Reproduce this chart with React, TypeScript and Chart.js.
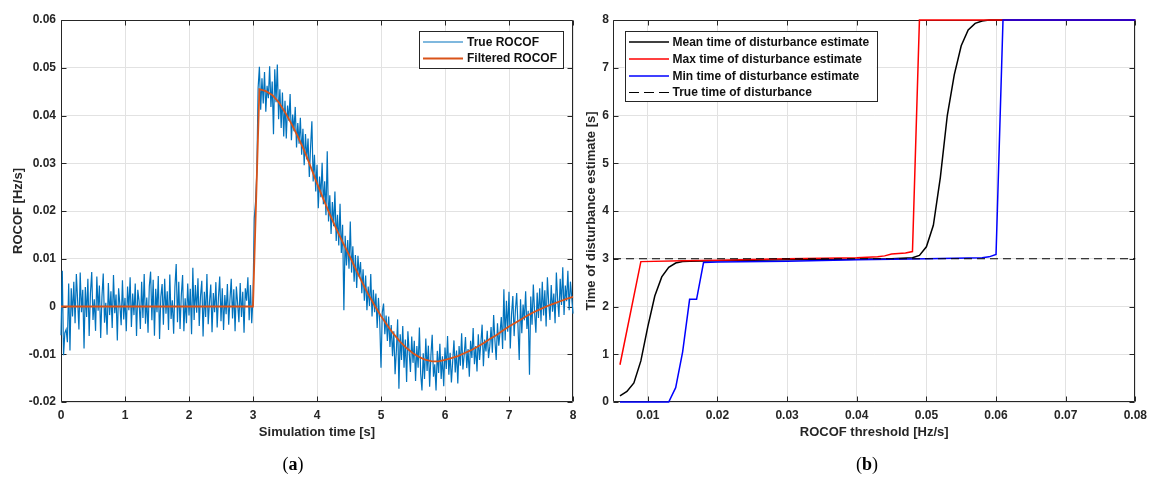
import React, { useEffect, useRef } from 'react';
import { Chart, registerables } from 'chart.js';

Chart.register(...registerables);

// ---------- Panel (a) data ----------
const TRUE_STEP = 0.02; // s between samples of the true ROCOF
const TRUE_ROCOF = [
  -0.0060, 0.0075, -0.0102, -0.0055, -0.0048, -0.0075, 0.0048, -0.0092, 0.0038, -0.0021,
  0.0052, -0.0035, 0.0068, 0.0012, -0.0048, 0.0071, -0.0012, 0.0035, -0.0088, 0.0041,
  -0.0022, 0.0058, -0.0062, 0.0028, 0.0072, -0.0028, 0.0015, -0.0051, 0.0063, -0.0009,
  0.0044, -0.0066, 0.0021, 0.0069, -0.0034, 0.0008, -0.0059, 0.0049, -0.0018, 0.0032,
  -0.0045, 0.0066, -0.0014, 0.0025, -0.0071, 0.0038, 0.0004, -0.0039, 0.0055, -0.0027,
  0.0018, -0.0052, 0.0042, -0.0008, 0.0061, -0.0043, 0.0027, -0.0018, 0.0048, -0.0062,
  0.0035, 0.0011, -0.0047, 0.0052, -0.0024, 0.0068, -0.0036, 0.0019, -0.0055, 0.0043,
  0.0073, -0.0029, 0.0056, -0.0061, 0.0037, -0.0012, 0.0064, -0.0068, 0.0021, 0.0047,
  -0.0038, 0.0058, -0.0015, 0.0032, -0.0049, 0.0067, -0.0026, 0.0013, -0.0057, 0.0041,
  0.0089, -0.0033, 0.0052, -0.0047, 0.0024, 0.0066, -0.0052, 0.0017, -0.0035, 0.0048,
  -0.0019, 0.0037, -0.0058, 0.0081, -0.0028, 0.0045, -0.0013, 0.0059, -0.0041, 0.0022,
  0.0054, -0.0063, 0.0031, -0.0022, 0.0068, -0.0037, 0.0009, 0.0046, -0.0054, 0.0028,
  -0.0012, 0.0051, -0.0044, 0.0019, 0.0063, -0.0031, 0.0038, -0.0049, 0.0024, -0.0016,
  0.0047, -0.0038, 0.0015, 0.0058, -0.0025, 0.0036, -0.0052, 0.0042, 0.0006, -0.0033,
  0.0049, -0.0022, 0.0031, -0.0055, 0.0038, 0.0012, 0.0061, -0.0029, 0.0045, -0.0035, 0.0018,
  0.0185, 0.0219, 0.0281, 0.0458, 0.0502,
  0.0412, 0.0478, 0.0425, 0.0491, 0.0408, 0.0462, 0.0436, 0.0503, 0.0418, 0.0471,
  0.0361, 0.0497, 0.0428, 0.0507, 0.0392, 0.0455, 0.0374, 0.0448, 0.0356, 0.0431,
  0.0352, 0.0421, 0.0389, 0.0445, 0.0348, 0.0402, 0.0367, 0.0418, 0.0333, 0.0384,
  0.0341, 0.0395, 0.0318, 0.0372, 0.0296, 0.0361, 0.0308, 0.0352, 0.0271, 0.0335,
  0.0388, 0.0262, 0.0318, 0.0241, 0.0297, 0.0206, 0.0272, 0.0229, 0.0301, 0.0214,
  0.0262, 0.0191, 0.0325, 0.0178, 0.0233, 0.0152, 0.0219, 0.0168, 0.0241, 0.0137,
  0.0192, 0.0128, 0.0215, 0.0112, 0.0171, -0.0008, 0.0148, 0.0086, 0.0139, 0.0079,
  0.0178, 0.0071, 0.0126, 0.0052, 0.0108, 0.0039, 0.0106, 0.0062, 0.0093, 0.0028,
  0.0078, 0.0012, 0.0065, -0.0008, 0.0042, 0.0001, 0.0068, -0.0021, 0.0035, -0.0012,
  0.0027, -0.0045, 0.0018, -0.0031, -0.0128, -0.0012, 0.0006, -0.0058, -0.0019, -0.0072,
  -0.0021, -0.0085, -0.0039, -0.0104, -0.0052, -0.0142, -0.0093, -0.0027, -0.0172, -0.0058,
  -0.0112, -0.0041, -0.0128, -0.0069, -0.0158, -0.0052, -0.0095, -0.0137, -0.0063, -0.0118,
  -0.0072, -0.0156, -0.0083, -0.0128, -0.0044, -0.0141, -0.0176, -0.0098, -0.0152, -0.0067,
  -0.0135, -0.0082, -0.0168, -0.0102, -0.0059, -0.0147, -0.0121, -0.0176, -0.0093, -0.0139,
  -0.0078, -0.0152, -0.0104, -0.0167, -0.0086, -0.0131, -0.0062, -0.0143, -0.0097, -0.0159,
  -0.0115, -0.0071, -0.0138, -0.0092, -0.0161, -0.0083, -0.0124, -0.0056, -0.0132, -0.0101,
  -0.0064, -0.0129, -0.0089, -0.0147, -0.0072, -0.0108, -0.0045, -0.0121, -0.0083, -0.0136,
  -0.0058, -0.0112, -0.0077, -0.0038, -0.0125, -0.0069, -0.0094, -0.0051, -0.0108, -0.0083,
  -0.0043, -0.0097, -0.0018, -0.0071, -0.0112, -0.0035, -0.0082, -0.0054, -0.0022, -0.0089,
  0.0036, -0.0071, 0.0012, -0.0053, 0.0031, -0.0088, -0.0016, 0.0022, -0.0062, -0.0008,
  0.0028, -0.0041, -0.0112, 0.0015, -0.0056, 0.0004, -0.0029, 0.0032, -0.0047, -0.0009,
  -0.0143, 0.0021, -0.0038, 0.0046, -0.0012, -0.0055, 0.0029, -0.0024, 0.0038, -0.0031,
  0.0052, -0.0019, 0.0034, -0.0042, 0.0061, 0.0008, -0.0028, 0.0045, -0.0011, 0.0027,
  -0.0035, 0.0071, 0.0014, -0.0022, 0.0058, 0.0003, 0.0082, -0.0018, 0.0044, 0.0011,
  0.0075, -0.0008, 0.0052, 0.0019, -0.0015,
];

const FILTERED_STEP = 0.1; // s between samples of the filtered ROCOF
const FILTERED_ROCOF = [
  0, 0, 0, 0, 0, 0, 0, 0, 0, 0,
  0, 0, 0, 0, 0, 0, 0, 0, 0, 0,
  0, 0, 0, 0, 0, 0, 0, 0, 0, 0,
  0,
  0.0455, 0.0451, 0.0443, 0.0428, 0.0407, 0.0383, 0.0356, 0.0327, 0.0293, 0.0258,
  0.0225, 0.0193, 0.0163, 0.0135, 0.0108, 0.0080, 0.0052, 0.0026, 0.0002, -0.0020,
  -0.0040, -0.0058, -0.0074, -0.0087, -0.0098, -0.0106, -0.0112, -0.0115, -0.0115, -0.0112,
  -0.0108, -0.0104, -0.0098, -0.0092, -0.0085, -0.0077, -0.0068, -0.0060, -0.0051, -0.0042,
  -0.0034, -0.0026, -0.0018, -0.0011, -0.0005, 0.0001, 0.0006, 0.0011, 0.0016, 0.0020,
];

const A_X_TICKS = [0, 1, 2, 3, 4, 5, 6, 7, 8];
const A_X_LABELS = ['0', '1', '2', '3', '4', '5', '6', '7', '8'];
const A_Y_TICKS = [-0.02, -0.01, 0, 0.01, 0.02, 0.03, 0.04, 0.05, 0.06];
const A_Y_LABELS = ['-0.02', '-0.01', '0', '0.01', '0.02', '0.03', '0.04', '0.05', '0.06'];

// ---------- Panel (b) data ----------
const MEAN_X = [0.006, 0.007, 0.008, 0.009, 0.010, 0.011, 0.012, 0.013, 0.014, 0.015, 0.016, 0.02, 0.03, 0.04, 0.045, 0.048, 0.049, 0.050, 0.051, 0.052, 0.053, 0.054, 0.055, 0.056, 0.057, 0.058, 0.059, 0.08];
const MEAN_Y = [0.13, 0.22, 0.40, 0.86, 1.58, 2.22, 2.62, 2.82, 2.91, 2.94, 2.95, 2.96, 2.98, 2.99, 3.0, 3.02, 3.07, 3.25, 3.7, 4.7, 6.0, 6.85, 7.46, 7.79, 7.93, 7.98, 8.0, 8.0];
const MAX_X = [0.006, 0.009, 0.015, 0.02, 0.03, 0.04, 0.043, 0.044, 0.045, 0.047, 0.048, 0.049, 0.08];
const MAX_Y = [0.78, 2.94, 2.96, 2.97, 3.0, 3.02, 3.04, 3.06, 3.1, 3.12, 3.15, 8.0, 8.0];
const MIN_X = [0.006, 0.013, 0.014, 0.015, 0.016, 0.017, 0.018, 0.02, 0.03, 0.04, 0.05, 0.058, 0.059, 0.060, 0.061, 0.08];
const MIN_Y = [0, 0, 0.3, 1.05, 2.15, 2.15, 2.92, 2.93, 2.95, 2.98, 3.0, 3.02, 3.04, 3.09, 8.0, 8.0];
const TRUE_TIME_X = [0.005, 0.08];
const TRUE_TIME_Y = [3, 3];

const B_X_TICKS = [0.01, 0.02, 0.03, 0.04, 0.05, 0.06, 0.07, 0.08];
const B_X_LABELS = ['0.01', '0.02', '0.03', '0.04', '0.05', '0.06', '0.07', '0.08'];
const B_Y_TICKS = [0, 1, 2, 3, 4, 5, 6, 7, 8];
const B_Y_LABELS = ['0', '1', '2', '3', '4', '5', '6', '7', '8'];

const FONT = "'Liberation Sans', Arial, Helvetica, sans-serif";
const TEXT = '#262626';

function zip(xs: number[], ys: number[]) {
  return xs.map((x, i) => ({ x, y: ys[i] }));
}
function sampled(step: number, ys: number[]) {
  return ys.map((y, i) => ({ x: Math.round(i * step * 1000) / 1000, y }));
}

function axis(opts: {
  min: number; max: number; ticks: number[]; labels: string[]; title: string;
  horizontal: boolean; size: number; tickPad: number; titlePad: number;
}) {
  const { min, max, ticks, labels, title, horizontal, size, tickPad, titlePad } = opts;
  return {
    type: 'linear',
    min,
    max,
    afterBuildTicks: (s: any) => {
      s.ticks = ticks.map((v) => ({ value: v }));
    },
    afterFit: (s: any) => {
      if (horizontal) s.height = size;
      else s.width = size;
    },
    grid: { color: '#e2e2e2', lineWidth: 1, drawTicks: false },
    border: { display: false },
    ticks: {
      autoSkip: false,
      maxRotation: 0,
      padding: tickPad,
      color: TEXT,
      font: { family: FONT, size: 12, weight: 'bold' },
      callback: (_v: any, i: number) => labels[i],
    },
    title: {
      display: true,
      text: title,
      color: TEXT,
      font: { family: FONT, size: 13, weight: 'bold' },
      padding: horizontal ? { top: 0, bottom: titlePad } : { top: titlePad, bottom: 0 },
    },
  };
}

const framePlugin = {
  id: 'matlabFrame',
  beforeDatasetsDraw(chart: any) {
    const { ctx, chartArea } = chart;
    const { left, top, right, bottom } = chartArea;
    const xs = chart.scales.x;
    const ys = chart.scales.y;
    const L = 5;
    ctx.save();
    ctx.strokeStyle = TEXT;
    ctx.lineWidth = 1;
    const l = Math.round(left) + 0.5;
    const r = Math.round(right) - 0.5;
    const t = Math.round(top) + 0.5;
    const b = Math.round(bottom) - 0.5;
    ctx.beginPath();
    ctx.rect(l, t, r - l, b - t);
    xs.ticks.forEach((tk: any) => {
      const px = Math.round(xs.getPixelForValue(tk.value)) + 0.5;
      ctx.moveTo(px, b);
      ctx.lineTo(px, b - L);
      ctx.moveTo(px, t);
      ctx.lineTo(px, t + L);
    });
    ys.ticks.forEach((tk: any) => {
      const py = Math.round(ys.getPixelForValue(tk.value)) + 0.5;
      ctx.moveTo(l, py);
      ctx.lineTo(l + L, py);
      ctx.moveTo(r, py);
      ctx.lineTo(r - L, py);
    });
    ctx.stroke();
    ctx.restore();
  },
};

const boxLegendPlugin = {
  id: 'boxLegend',
  afterDraw(chart: any, _args: any, o: any) {
    if (!o || !o.box) return;
    const { ctx } = chart;
    const [bx, by, bw, bh] = o.box;
    ctx.save();
    ctx.fillStyle = '#ffffff';
    ctx.fillRect(bx, by, bw, bh);
    ctx.strokeStyle = '#262626';
    ctx.lineWidth = 1;
    ctx.strokeRect(Math.round(bx) + 0.5, Math.round(by) + 0.5, Math.round(bw), Math.round(bh));
    chart.data.datasets.forEach((ds: any, i: number) => {
      const y = o.rows[i];
      ctx.beginPath();
      ctx.strokeStyle = ds.borderColor;
      ctx.lineWidth = ds.borderWidth;
      ctx.setLineDash(ds.legendDash || []);
      ctx.moveTo(o.lineX0, y);
      ctx.lineTo(o.lineX1, y);
      ctx.stroke();
      ctx.setLineDash([]);
      ctx.fillStyle = '#111111';
      ctx.font = `bold 12px ${FONT}`;
      ctx.textBaseline = 'middle';
      ctx.textAlign = 'left';
      ctx.fillText(ds.label, o.textX, y + 0.5);
    });
    ctx.restore();
  },
};

function PanelA() {
  const ref = useRef<HTMLCanvasElement | null>(null);
  useEffect(() => {
    if (!ref.current) return;
    const chart = new Chart(ref.current, {
      type: 'line',
      data: {
        datasets: [
          {
            label: 'True ROCOF',
            data: sampled(TRUE_STEP, TRUE_ROCOF),
            borderColor: '#0072BD',
            borderWidth: 1.2,
            pointRadius: 0,
            tension: 0,
            clip: false,
            order: 1,
          },
          {
            label: 'Filtered ROCOF',
            data: sampled(FILTERED_STEP, FILTERED_ROCOF),
            borderColor: '#D95319',
            borderWidth: 1.8,
            pointRadius: 0,
            tension: 0,
            clip: false,
            order: 0,
          },
        ],
      } as any,
      options: {
        animation: false,
        responsive: false,
        devicePixelRatio: 1,
        events: [],
        layout: { padding: { left: 0, top: 20, right: 12, bottom: 31 } },
        plugins: {
          legend: { display: false },
          tooltip: { enabled: false },
          boxLegend: {
            box: [418.5, 31, 144, 37],
            rows: [42, 58.5],
            lineX0: 423,
            lineX1: 463,
            textX: 467,
          },
        } as any,
        scales: {
          x: axis({ min: 0, max: 8, ticks: A_X_TICKS, labels: A_X_LABELS, title: 'Simulation time [s]', horizontal: true, size: 45, tickPad: 6, titlePad: 6.5 }),
          y: axis({ min: -0.02, max: 0.06, ticks: A_Y_TICKS, labels: A_Y_LABELS, title: 'ROCOF [Hz/s]', horizontal: false, size: 61, tickPad: 5, titlePad: 11 }),
        } as any,
      },
      plugins: [framePlugin, boxLegendPlugin],
    });
    return () => chart.destroy();
  }, []);
  return <canvas ref={ref} width={585} height={478} style={{ position: 'absolute', left: 0, top: 0 }} />;
}

function PanelB() {
  const ref = useRef<HTMLCanvasElement | null>(null);
  useEffect(() => {
    if (!ref.current) return;
    const common = { pointRadius: 0, tension: 0, borderWidth: 1.5, clip: false };
    const chart = new Chart(ref.current, {
      type: 'line',
      data: {
        datasets: [
          { ...common, label: 'Mean time of disturbance estimate', data: zip(MEAN_X, MEAN_Y), borderColor: '#000000', order: 3 },
          { ...common, label: 'Max time of disturbance estimate', data: zip(MAX_X, MAX_Y), borderColor: '#FF0000', order: 2 },
          { ...common, label: 'Min time of disturbance estimate', data: zip(MIN_X, MIN_Y), borderColor: '#0000FF', order: 1 },
          {
            ...common,
            label: 'True time of disturbance',
            data: zip(TRUE_TIME_X, TRUE_TIME_Y),
            borderColor: '#000000',
            borderWidth: 1,
            borderDash: [8, 5],
            legendDash: [10, 5],
            order: 0,
          },
        ],
      } as any,
      options: {
        animation: false,
        responsive: false,
        devicePixelRatio: 1,
        events: [],
        layout: { padding: { left: 0, top: 20, right: 12, bottom: 31 } },
        plugins: {
          legend: { display: false },
          tooltip: { enabled: false },
          boxLegend: {
            box: [49.5, 31, 252, 70],
            rows: [42, 59, 76, 92.5],
            lineX0: 54,
            lineX1: 94,
            textX: 97.5,
          },
        } as any,
        scales: {
          x: axis({ min: 0.005, max: 0.08, ticks: B_X_TICKS, labels: B_X_LABELS, title: 'ROCOF threshold [Hz/s]', horizontal: true, size: 45, tickPad: 6, titlePad: 6.5 }),
          y: axis({ min: 0, max: 8, ticks: B_Y_TICKS, labels: B_Y_LABELS, title: 'Time of disturbance estimate [s]', horizontal: false, size: 38, tickPad: 4, titlePad: 9 }),
        } as any,
      },
      plugins: [framePlugin, boxLegendPlugin],
    });
    return () => chart.destroy();
  }, []);
  return <canvas ref={ref} width={578} height={478} style={{ position: 'absolute', left: 575, top: 0 }} />;
}

const captionStyle: React.CSSProperties = {
  position: 'absolute',
  width: 100,
  top: 453,
  height: 22,
  lineHeight: '22px',
  textAlign: 'center',
  fontFamily: "'Liberation Serif', 'Times New Roman', serif",
  fontSize: 18,
  color: '#000',
};

export default function App() {
  return (
    <div style={{ position: 'absolute', left: 0, top: 0, width: 1153, height: 478, background: '#fff', overflow: 'hidden' }}>
      <PanelA />
      <PanelB />
      <div style={{ ...captionStyle, left: 293 - 50 }}>
        (<b>a</b>)
      </div>
      <div style={{ ...captionStyle, left: 867 - 50 }}>
        (<b>b</b>)
      </div>
    </div>
  );
}
